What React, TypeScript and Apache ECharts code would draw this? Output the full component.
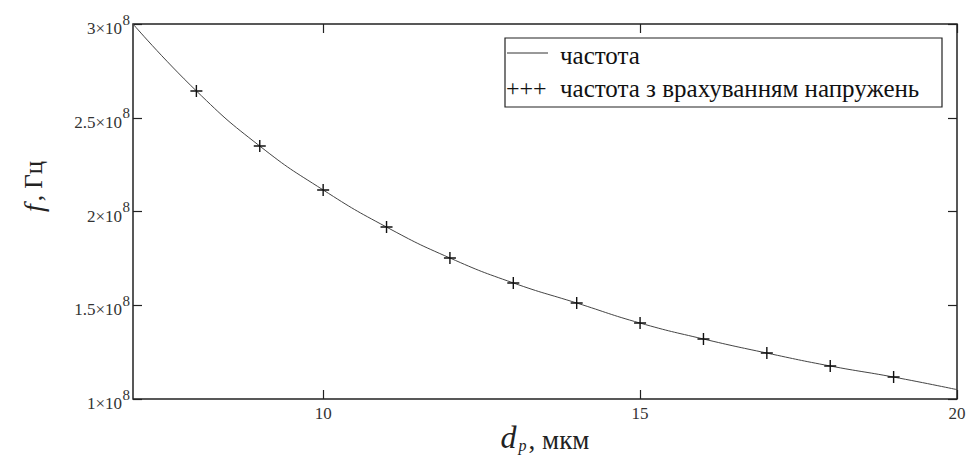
import React, { useEffect, useRef } from "react";
import * as echarts from "echarts";

const dValues = [7, 8, 9, 10, 11, 12, 13, 14, 15, 16, 17, 18, 19, 20];
const freqLine = [3.0e8, 2.643e8, 2.349e8, 2.115e8, 1.917e8, 1.752e8, 1.619e8, 1.512e8, 1.405e8, 1.32e8, 1.245e8, 1.176e8, 1.117e8, 1.05e8];
const dMarkers = [8, 9, 10, 11, 12, 13, 14, 15, 16, 17, 18, 19];
const freqStress = [2.643e8, 2.349e8, 2.115e8, 1.917e8, 1.752e8, 1.619e8, 1.512e8, 1.405e8, 1.32e8, 1.245e8, 1.176e8, 1.117e8];
const xTicks = [10, 15, 20];
const yMantissa = ["1", "1.5", "2", "2.5", "3"];
const yExponent = "8";
const legendNames = ["частота", "частота з врахуванням напружень"];

const SERIF = "Liberation Serif";

export default function App() {
  const ref = useRef<HTMLDivElement>(null);
  useEffect(() => {
    if (!ref.current) return;
    const chart = echarts.init(ref.current, null, { renderer: "svg" });
    const yLabel = (v: number) => {
      const idx = Math.round((v - 1e8) / 0.5e8);
      const m = yMantissa[idx] ?? String(v / 1e8);
      return `${m}×10`;
    };
    const plus = "path://M5,0L5,10M0,5L10,5";
    const tick = { show: true, inside: true, length: 9, lineStyle: { color: "#222", width: 1.2 } };
    const yBase = { type: "value", min: 1e8, max: 3e8, interval: 0.5e8, axisLine: { show: false }, splitLine: { show: false } };
    chart.setOption({
      animation: false,
      backgroundColor: "#ffffff",
      textStyle: { fontFamily: SERIF },
      grid: { left: 133, top: 24, right: 13, bottom: 65, show: true, borderColor: "#222", borderWidth: 1.5, backgroundColor: "transparent" },
      xAxis: [
        {
          type: "value", min: 7, max: 20,
          axisLine: { show: false },
          splitLine: { show: false },
          axisTick: { ...tick, customValues: xTicks },
          axisLabel: { customValues: xTicks, fontFamily: SERIF, fontSize: 17, color: "#333", margin: 6 },
          name: "{i|d}{sub|p}{n|, мкм}",
          nameLocation: "middle",
          nameGap: 22,
          nameMoveOverlap: false,
          nameTextStyle: {
            fontFamily: SERIF,
            rich: {
              i: { fontFamily: SERIF, fontStyle: "italic", fontSize: 32, color: "#222", verticalAlign: "bottom" },
              sub: { fontFamily: SERIF, fontStyle: "italic", fontSize: 16, color: "#222", verticalAlign: "bottom", padding: [12, 2, 0, 2] },
              n: { fontFamily: SERIF, fontSize: 27, color: "#222", verticalAlign: "bottom" },
            },
          },
        },
        {
          type: "value", min: 7, max: 20, position: "top",
          axisLine: { show: false }, splitLine: { show: false },
          axisTick: { ...tick, customValues: xTicks },
          axisLabel: { show: false },
        },
      ],
      yAxis: [
        {
          ...yBase,
          axisTick: tick,
          axisLabel: { formatter: yLabel, margin: 11, fontFamily: SERIF, fontSize: 17, color: "#333", verticalAlign: "top", lineHeight: 9 },
          name: "{i|f} {n|, Гц}",
          nameLocation: "middle",
          nameRotate: 90,
          nameGap: 86,
          nameTextStyle: {
            fontFamily: SERIF,
            padding: [0, 0, 0, 50],
            rich: {
              i: { fontFamily: SERIF, fontStyle: "italic", fontSize: 28, color: "#222" },
              n: { fontFamily: SERIF, fontSize: 25, color: "#222" },
            },
          },
        },
        {
          ...yBase,
          position: "right",
          axisTick: tick,
          axisLabel: { show: false },
        },
        {
          ...yBase,
          position: "left",
          axisTick: { show: false },
          axisLabel: { formatter: () => yExponent, margin: 3, fontFamily: SERIF, fontSize: 15, color: "#333", verticalAlign: "bottom", lineHeight: 9 },
        },
      ],
      series: [
        {
          name: legendNames[0], type: "line", smooth: true, showSymbol: false,
          data: dValues.map((d, i) => [d, freqLine[i]]),
          lineStyle: { color: "#444", width: 1 },
        },
        {
          name: legendNames[1], type: "line", symbol: plus, symbolSize: 12,
          data: dMarkers.map((d, i) => [d, freqStress[i]]),
          lineStyle: { opacity: 0 },
          itemStyle: { color: "none", borderColor: "#111", borderWidth: 1.4 },
          z: 3,
        },
      ],
      graphic: [
        { type: "rect", shape: { x: 505, y: 38, width: 437, height: 69 }, style: { fill: "#fff", stroke: "#222", lineWidth: 1.2 }, z: 10 },
        { type: "line", shape: { x1: 507, y1: 53, x2: 548, y2: 53 }, style: { stroke: "#333", lineWidth: 1 }, z: 11 },
        { type: "text", x: 560, y: 55, style: { text: legendNames[0], font: `25px ${SERIF}`, fill: "#111", verticalAlign: "middle" }, z: 11 },
        { type: "text", x: 506, y: 88, style: { text: "+++", font: `24px ${SERIF}`, fill: "#111", verticalAlign: "middle" }, z: 11 },
        { type: "text", x: 560, y: 88, style: { text: legendNames[1], font: `25px ${SERIF}`, fill: "#111", verticalAlign: "middle" }, z: 11 },
      ],
    });
    return () => chart.dispose();
  }, []);
  return <div ref={ref} style={{ position: "fixed", left: 0, top: 0, width: 970, height: 464 }} />;
}
